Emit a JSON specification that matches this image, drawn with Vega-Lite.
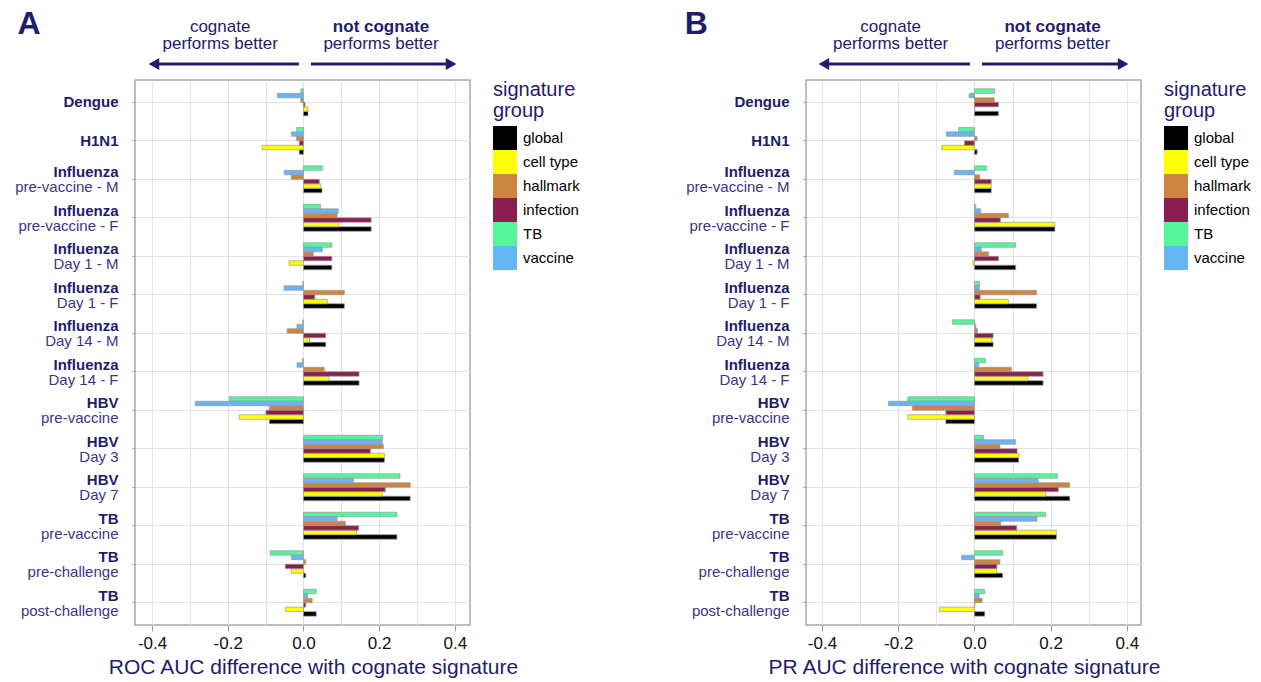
{
  "$schema": "https://vega.github.io/schema/vega-lite/v6.json",
  "padding": {"left": 13, "top": 8, "right": 4, "bottom": 2},
  "background": "white",
  "config": {
    "font": "Liberation Sans",
    "view": {"stroke": "#a8a8a8", "strokeWidth": 1.5},
    "legend": {"orient": "right", "offset": 23, "padding": 0, "titleFontSize": 20, "titleColor": "#221c6c", "titleFontWeight": "normal", "titleLineHeight": 21, "titlePadding": 5, "labelFontSize": 15, "labelColor": "#000000", "symbolType": "square", "symbolSize": 576, "symbolStrokeWidth": 0, "symbolOpacity": 1, "rowPadding": 0, "labelOffset": 6}
  },
  "datasets": {
    "roc": [
      {"c":"Dengue","g":"global","v":0.012},{"c":"Dengue","g":"cell type","v":0.012},{"c":"Dengue","g":"hallmark","v":-0.007},{"c":"Dengue","g":"infection","v":0.004},{"c":"Dengue","g":"TB","v":-0.007},{"c":"Dengue","g":"vaccine","v":-0.069},
      {"c":"H1N1","g":"global","v":-0.011},{"c":"H1N1","g":"cell type","v":-0.109},{"c":"H1N1","g":"hallmark","v":-0.018},{"c":"H1N1","g":"infection","v":-0.011},{"c":"H1N1","g":"TB","v":-0.018},{"c":"H1N1","g":"vaccine","v":-0.032},
      {"c":"Influenza|pre-vaccine - M","g":"global","v":0.049},{"c":"Influenza|pre-vaccine - M","g":"cell type","v":0.046},{"c":"Influenza|pre-vaccine - M","g":"hallmark","v":-0.032},{"c":"Influenza|pre-vaccine - M","g":"infection","v":0.042},{"c":"Influenza|pre-vaccine - M","g":"TB","v":0.05},{"c":"Influenza|pre-vaccine - M","g":"vaccine","v":-0.051},
      {"c":"Influenza|pre-vaccine - F","g":"global","v":0.179},{"c":"Influenza|pre-vaccine - F","g":"cell type","v":0.094},{"c":"Influenza|pre-vaccine - F","g":"hallmark","v":0.089},{"c":"Influenza|pre-vaccine - F","g":"infection","v":0.179},{"c":"Influenza|pre-vaccine - F","g":"TB","v":0.045},{"c":"Influenza|pre-vaccine - F","g":"vaccine","v":0.092},
      {"c":"Influenza|Day 1 - M","g":"global","v":0.075},{"c":"Influenza|Day 1 - M","g":"cell type","v":-0.038},{"c":"Influenza|Day 1 - M","g":"hallmark","v":0.026},{"c":"Influenza|Day 1 - M","g":"infection","v":0.075},{"c":"Influenza|Day 1 - M","g":"TB","v":0.075},{"c":"Influenza|Day 1 - M","g":"vaccine","v":0.05},
      {"c":"Influenza|Day 1 - F","g":"global","v":0.108},{"c":"Influenza|Day 1 - F","g":"cell type","v":0.063},{"c":"Influenza|Day 1 - F","g":"hallmark","v":0.108},{"c":"Influenza|Day 1 - F","g":"infection","v":0.03},{"c":"Influenza|Day 1 - F","g":"TB","v":-0.002},{"c":"Influenza|Day 1 - F","g":"vaccine","v":-0.051},
      {"c":"Influenza|Day 14 - M","g":"global","v":0.059},{"c":"Influenza|Day 14 - M","g":"cell type","v":0.016},{"c":"Influenza|Day 14 - M","g":"hallmark","v":-0.043},{"c":"Influenza|Day 14 - M","g":"infection","v":0.059},{"c":"Influenza|Day 14 - M","g":"TB","v":-0.002},{"c":"Influenza|Day 14 - M","g":"vaccine","v":-0.017},
      {"c":"Influenza|Day 14 - F","g":"global","v":0.147},{"c":"Influenza|Day 14 - F","g":"cell type","v":0.068},{"c":"Influenza|Day 14 - F","g":"hallmark","v":0.055},{"c":"Influenza|Day 14 - F","g":"infection","v":0.147},{"c":"Influenza|Day 14 - F","g":"TB","v":-0.003},{"c":"Influenza|Day 14 - F","g":"vaccine","v":-0.017},
      {"c":"HBV|pre-vaccine","g":"global","v":-0.09},{"c":"HBV|pre-vaccine","g":"cell type","v":-0.17},{"c":"HBV|pre-vaccine","g":"hallmark","v":-0.09},{"c":"HBV|pre-vaccine","g":"infection","v":-0.099},{"c":"HBV|pre-vaccine","g":"TB","v":-0.196},{"c":"HBV|pre-vaccine","g":"vaccine","v":-0.286},
      {"c":"HBV|Day 3","g":"global","v":0.214},{"c":"HBV|Day 3","g":"cell type","v":0.214},{"c":"HBV|Day 3","g":"hallmark","v":0.211},{"c":"HBV|Day 3","g":"infection","v":0.177},{"c":"HBV|Day 3","g":"TB","v":0.209},{"c":"HBV|Day 3","g":"vaccine","v":0.208},
      {"c":"HBV|Day 7","g":"global","v":0.282},{"c":"HBV|Day 7","g":"cell type","v":0.208},{"c":"HBV|Day 7","g":"hallmark","v":0.282},{"c":"HBV|Day 7","g":"infection","v":0.216},{"c":"HBV|Day 7","g":"TB","v":0.255},{"c":"HBV|Day 7","g":"vaccine","v":0.132},
      {"c":"TB|pre-vaccine","g":"global","v":0.247},{"c":"TB|pre-vaccine","g":"cell type","v":0.14},{"c":"TB|pre-vaccine","g":"hallmark","v":0.111},{"c":"TB|pre-vaccine","g":"infection","v":0.146},{"c":"TB|pre-vaccine","g":"TB","v":0.247},{"c":"TB|pre-vaccine","g":"vaccine","v":0.089},
      {"c":"TB|pre-challenge","g":"global","v":0.006},{"c":"TB|pre-challenge","g":"cell type","v":-0.032},{"c":"TB|pre-challenge","g":"hallmark","v":0.006},{"c":"TB|pre-challenge","g":"infection","v":-0.048},{"c":"TB|pre-challenge","g":"TB","v":-0.088},{"c":"TB|pre-challenge","g":"vaccine","v":-0.032},
      {"c":"TB|post-challenge","g":"global","v":0.034},{"c":"TB|post-challenge","g":"cell type","v":-0.048},{"c":"TB|post-challenge","g":"hallmark","v":0.023},{"c":"TB|post-challenge","g":"infection","v":0.006},{"c":"TB|post-challenge","g":"TB","v":0.034},{"c":"TB|post-challenge","g":"vaccine","v":0.011}
    ],
    "pr": [
      {"c":"Dengue","g":"global","v":0.063},{"c":"Dengue","g":"cell type","v":0.001},{"c":"Dengue","g":"hallmark","v":0.052},{"c":"Dengue","g":"infection","v":0.063},{"c":"Dengue","g":"TB","v":0.053},{"c":"Dengue","g":"vaccine","v":-0.014},
      {"c":"H1N1","g":"global","v":0.007},{"c":"H1N1","g":"cell type","v":-0.086},{"c":"H1N1","g":"hallmark","v":0.007},{"c":"H1N1","g":"infection","v":-0.026},{"c":"H1N1","g":"TB","v":-0.042},{"c":"H1N1","g":"vaccine","v":-0.074},
      {"c":"Influenza|pre-vaccine - M","g":"global","v":0.044},{"c":"Influenza|pre-vaccine - M","g":"cell type","v":0.044},{"c":"Influenza|pre-vaccine - M","g":"hallmark","v":0.014},{"c":"Influenza|pre-vaccine - M","g":"infection","v":0.044},{"c":"Influenza|pre-vaccine - M","g":"TB","v":0.032},{"c":"Influenza|pre-vaccine - M","g":"vaccine","v":-0.053},
      {"c":"Influenza|pre-vaccine - F","g":"global","v":0.211},{"c":"Influenza|pre-vaccine - F","g":"cell type","v":0.211},{"c":"Influenza|pre-vaccine - F","g":"hallmark","v":0.089},{"c":"Influenza|pre-vaccine - F","g":"infection","v":0.068},{"c":"Influenza|pre-vaccine - F","g":"TB","v":0.004},{"c":"Influenza|pre-vaccine - F","g":"vaccine","v":0.016},
      {"c":"Influenza|Day 1 - M","g":"global","v":0.108},{"c":"Influenza|Day 1 - M","g":"cell type","v":-0.004},{"c":"Influenza|Day 1 - M","g":"hallmark","v":0.037},{"c":"Influenza|Day 1 - M","g":"infection","v":0.063},{"c":"Influenza|Day 1 - M","g":"TB","v":0.108},{"c":"Influenza|Day 1 - M","g":"vaccine","v":0.018},
      {"c":"Influenza|Day 1 - F","g":"global","v":0.163},{"c":"Influenza|Day 1 - F","g":"cell type","v":0.089},{"c":"Influenza|Day 1 - F","g":"hallmark","v":0.163},{"c":"Influenza|Day 1 - F","g":"infection","v":0.015},{"c":"Influenza|Day 1 - F","g":"TB","v":0.013},{"c":"Influenza|Day 1 - F","g":"vaccine","v":0.013},
      {"c":"Influenza|Day 14 - M","g":"global","v":0.049},{"c":"Influenza|Day 14 - M","g":"cell type","v":0.046},{"c":"Influenza|Day 14 - M","g":"hallmark","v":0.008},{"c":"Influenza|Day 14 - M","g":"infection","v":0.049},{"c":"Influenza|Day 14 - M","g":"TB","v":-0.058},{"c":"Influenza|Day 14 - M","g":"vaccine","v":0.004},
      {"c":"Influenza|Day 14 - F","g":"global","v":0.18},{"c":"Influenza|Day 14 - F","g":"cell type","v":0.14},{"c":"Influenza|Day 14 - F","g":"hallmark","v":0.097},{"c":"Influenza|Day 14 - F","g":"infection","v":0.18},{"c":"Influenza|Day 14 - F","g":"TB","v":0.029},{"c":"Influenza|Day 14 - F","g":"vaccine","v":0.011},
      {"c":"HBV|pre-vaccine","g":"global","v":-0.075},{"c":"HBV|pre-vaccine","g":"cell type","v":-0.175},{"c":"HBV|pre-vaccine","g":"hallmark","v":-0.163},{"c":"HBV|pre-vaccine","g":"infection","v":-0.075},{"c":"HBV|pre-vaccine","g":"TB","v":-0.175},{"c":"HBV|pre-vaccine","g":"vaccine","v":-0.226},
      {"c":"HBV|Day 3","g":"global","v":0.116},{"c":"HBV|Day 3","g":"cell type","v":0.116},{"c":"HBV|Day 3","g":"hallmark","v":0.067},{"c":"HBV|Day 3","g":"infection","v":0.112},{"c":"HBV|Day 3","g":"TB","v":0.024},{"c":"HBV|Day 3","g":"vaccine","v":0.108},
      {"c":"HBV|Day 7","g":"global","v":0.25},{"c":"HBV|Day 7","g":"cell type","v":0.187},{"c":"HBV|Day 7","g":"hallmark","v":0.25},{"c":"HBV|Day 7","g":"infection","v":0.22},{"c":"HBV|Day 7","g":"TB","v":0.218},{"c":"HBV|Day 7","g":"vaccine","v":0.167},
      {"c":"TB|pre-vaccine","g":"global","v":0.215},{"c":"TB|pre-vaccine","g":"cell type","v":0.215},{"c":"TB|pre-vaccine","g":"hallmark","v":0.069},{"c":"TB|pre-vaccine","g":"infection","v":0.111},{"c":"TB|pre-vaccine","g":"TB","v":0.187},{"c":"TB|pre-vaccine","g":"vaccine","v":0.164},
      {"c":"TB|pre-challenge","g":"global","v":0.074},{"c":"TB|pre-challenge","g":"cell type","v":0.058},{"c":"TB|pre-challenge","g":"hallmark","v":0.067},{"c":"TB|pre-challenge","g":"infection","v":0.059},{"c":"TB|pre-challenge","g":"TB","v":0.074},{"c":"TB|pre-challenge","g":"vaccine","v":-0.034},
      {"c":"TB|post-challenge","g":"global","v":0.027},{"c":"TB|post-challenge","g":"cell type","v":-0.092},{"c":"TB|post-challenge","g":"hallmark","v":0.02},{"c":"TB|post-challenge","g":"infection","v":0.001},{"c":"TB|post-challenge","g":"TB","v":0.027},{"c":"TB|post-challenge","g":"vaccine","v":0.012}
    ],
    "annA": [
      {"k":"txt","x":-0.22,"y":11,"t":"cognate"},
      {"k":"txt","x":-0.22,"y":28,"t":"performs better"},
      {"k":"txt","x":0.205,"y":28,"t":"performs better"},
      {"k":"bold","x":0.205,"y":11,"t":"not cognate"},
      {"k":"letter","x":-0.725,"y":8,"t":"A"},
      {"k":"rule","x":-0.012,"x2":-0.385,"y":48},
      {"k":"rule","x":0.02,"x2":0.38,"y":48},
      {"k":"head","x":-0.395,"y":48,"s":"triangle-left"},
      {"k":"head","x":0.39,"y":48,"s":"triangle-right"}
    ],
    "annB": [
      {"k":"txt","x":-0.22,"y":11,"t":"cognate"},
      {"k":"txt","x":-0.22,"y":28,"t":"performs better"},
      {"k":"txt","x":0.205,"y":28,"t":"performs better"},
      {"k":"bold","x":0.205,"y":11,"t":"not cognate"},
      {"k":"letter","x":-0.73,"y":8,"t":"B"},
      {"k":"rule","x":-0.012,"x2":-0.385,"y":48},
      {"k":"rule","x":0.02,"x2":0.38,"y":48},
      {"k":"head","x":-0.395,"y":48,"s":"triangle-left"},
      {"k":"head","x":0.39,"y":48,"s":"triangle-right"}
    ]
  },
  "hconcat": [
    {
      "spacing": 8,
      "resolve": {"legend": {"color": "independent"}},
      "vconcat": [
        {
          "width": 335, "height": 55,
          "view": {"stroke": null},
          "data": {"name": "annA"},
          "encoding": {
            "x": {"field": "x", "type": "quantitative", "scale": {"domain": [-0.445, 0.44], "nice": false, "zero": false}, "axis": null},
            "y": {"field": "y", "type": "quantitative", "scale": {"domain": [0, 55], "nice": false, "zero": false, "reverse": true}, "axis": null}
          },
          "layer": [
            {"transform": [{"filter": "datum.k == 'txt'"}], "mark": {"type": "text", "fontSize": 17, "color": "#221c6c", "align": "center", "baseline": "middle"}, "encoding": {"text": {"field": "t"}}},
            {"transform": [{"filter": "datum.k == 'bold'"}], "mark": {"type": "text", "fontSize": 17, "fontWeight": "bold", "color": "#221c6c", "align": "center", "baseline": "middle"}, "encoding": {"text": {"field": "t"}}},
            {"transform": [{"filter": "datum.k == 'letter'"}], "mark": {"type": "text", "fontSize": 32, "fontWeight": "bold", "color": "#221c6c", "align": "center", "baseline": "middle"}, "encoding": {"text": {"field": "t"}}},
            {"transform": [{"filter": "datum.k == 'rule'"}], "mark": {"type": "rule", "strokeWidth": 3, "color": "#221c6c"}, "encoding": {"x2": {"field": "x2"}}},
            {"transform": [{"filter": "datum.k == 'head'"}], "mark": {"type": "point", "filled": true, "size": 150, "opacity": 1, "color": "#221c6c"}, "encoding": {"shape": {"field": "s", "type": "nominal", "scale": null, "legend": null}}}
          ]
        },
        {
          "width": 335, "height": 545,
          "data": {"name": "roc"},
          "resolve": {"axis": {"y": "independent"}},
          "layer": [
            {
              "mark": {"type": "bar", "stroke": "#9a9a9a", "strokeWidth": 0.7},
              "encoding": {
                "x": {"field": "v", "type": "quantitative", "scale": {"domain": [-0.445, 0.44], "nice": false, "zero": false},
                  "axis": {"values": [-0.4, -0.3, -0.2, -0.1, 0, 0.1, 0.2, 0.3, 0.4], "labelExpr": "abs(round(datum.value*10))%2==1 ? '' : replace(format(datum.value, '.1f'), '\u2212', '-')", "domain": false, "grid": true, "gridColor": "#e3e3e3", "tickSize": 6, "tickColor": {"condition": {"test": "abs(round(datum.value*10))%2==1", "value": "transparent"}, "value": "#999999"}, "labelFontSize": 17, "labelColor": "#111111", "labelPadding": 4, "title": "ROC AUC difference with cognate signature", "titleFontSize": 21, "titleFontWeight": "normal", "titleColor": "#221c6c", "titlePadding": 5, "titleX": 178}},
                "y": {"field": "c", "type": "nominal", "sort": null,
                  "scale": {"domain": ["Dengue","H1N1","Influenza|pre-vaccine - M","Influenza|pre-vaccine - F","Influenza|Day 1 - M","Influenza|Day 1 - F","Influenza|Day 14 - M","Influenza|Day 14 - F","HBV|pre-vaccine","HBV|Day 3","HBV|Day 7","TB|pre-vaccine","TB|pre-challenge","TB|post-challenge"], "paddingInner": 0.3, "paddingOuter": 0.23},
                  "axis": {"orient": "left", "title": null, "domain": false, "grid": true, "gridColor": "#e3e3e3", "ticks": true, "tickSize": 3, "tickColor": "#999999", "labelFontSize": 15, "labelFontWeight": "bold", "labelColor": "#221c6c", "labelPadding": 14, "labelLineHeight": 15, "labelOffset": {"condition": {"test": "indexof(datum.value, '|') >= 0", "value": -7}, "value": 0}, "labelExpr": "indexof(datum.value, '|') >= 0 ? [split(datum.value, '|')[0], ''] : datum.value"}},
                "yOffset": {"field": "g", "type": "nominal", "scale": {"domain": ["TB","vaccine","hallmark","infection","cell type","global"], "paddingInner": 0, "paddingOuter": 0}},
                "color": {"field": "g", "type": "nominal", "title": ["signature", "group"],
                  "scale": {"domain": ["global","cell type","hallmark","infection","TB","vaccine"], "range": ["#000000","#ffff00","#cd853f","#8b1e4e","#55f59c","#66b5f5"]}}
              }
            },
            {
              "mark": {"type": "point", "opacity": 0},
              "encoding": {
                "y": {"field": "c", "type": "nominal", "sort": null,
                  "axis": {"orient": "left", "title": null, "domain": false, "grid": false, "ticks": true, "tickSize": 3, "tickColor": "transparent", "labelFontSize": 15, "labelFontWeight": "normal", "labelColor": "#3b3589", "labelPadding": 14, "labelLineHeight": 15, "labelOffset": {"condition": {"test": "indexof(datum.value, '|') >= 0", "value": -7}, "value": 0}, "labelExpr": "indexof(datum.value, '|') >= 0 ? ['', split(datum.value, '|')[1]] : ''"}}
              }
            }
          ]
        }
      ]
    },
    {
      "spacing": 8,
      "resolve": {"legend": {"color": "independent"}},
      "vconcat": [
        {
          "width": 335, "height": 55,
          "view": {"stroke": null},
          "data": {"name": "annB"},
          "encoding": {
            "x": {"field": "x", "type": "quantitative", "scale": {"domain": [-0.442, 0.437], "nice": false, "zero": false}, "axis": null},
            "y": {"field": "y", "type": "quantitative", "scale": {"domain": [0, 55], "nice": false, "zero": false, "reverse": true}, "axis": null}
          },
          "layer": [
            {"transform": [{"filter": "datum.k == 'txt'"}], "mark": {"type": "text", "fontSize": 17, "color": "#221c6c", "align": "center", "baseline": "middle"}, "encoding": {"text": {"field": "t"}}},
            {"transform": [{"filter": "datum.k == 'bold'"}], "mark": {"type": "text", "fontSize": 17, "fontWeight": "bold", "color": "#221c6c", "align": "center", "baseline": "middle"}, "encoding": {"text": {"field": "t"}}},
            {"transform": [{"filter": "datum.k == 'letter'"}], "mark": {"type": "text", "fontSize": 32, "fontWeight": "bold", "color": "#221c6c", "align": "center", "baseline": "middle"}, "encoding": {"text": {"field": "t"}}},
            {"transform": [{"filter": "datum.k == 'rule'"}], "mark": {"type": "rule", "strokeWidth": 3, "color": "#221c6c"}, "encoding": {"x2": {"field": "x2"}}},
            {"transform": [{"filter": "datum.k == 'head'"}], "mark": {"type": "point", "filled": true, "size": 150, "opacity": 1, "color": "#221c6c"}, "encoding": {"shape": {"field": "s", "type": "nominal", "scale": null, "legend": null}}}
          ]
        },
        {
          "width": 335, "height": 545,
          "data": {"name": "pr"},
          "resolve": {"axis": {"y": "independent"}},
          "layer": [
            {
              "mark": {"type": "bar", "stroke": "#9a9a9a", "strokeWidth": 0.7},
              "encoding": {
                "x": {"field": "v", "type": "quantitative", "scale": {"domain": [-0.442, 0.437], "nice": false, "zero": false},
                  "axis": {"values": [-0.4, -0.3, -0.2, -0.1, 0, 0.1, 0.2, 0.3, 0.4], "labelExpr": "abs(round(datum.value*10))%2==1 ? '' : replace(format(datum.value, '.1f'), '\u2212', '-')", "domain": false, "grid": true, "gridColor": "#e3e3e3", "tickSize": 6, "tickColor": {"condition": {"test": "abs(round(datum.value*10))%2==1", "value": "transparent"}, "value": "#999999"}, "labelFontSize": 17, "labelColor": "#111111", "labelPadding": 4, "title": "PR AUC difference with cognate signature", "titleFontSize": 21, "titleFontWeight": "normal", "titleColor": "#221c6c", "titlePadding": 5, "titleX": 158}},
                "y": {"field": "c", "type": "nominal", "sort": null,
                  "scale": {"domain": ["Dengue","H1N1","Influenza|pre-vaccine - M","Influenza|pre-vaccine - F","Influenza|Day 1 - M","Influenza|Day 1 - F","Influenza|Day 14 - M","Influenza|Day 14 - F","HBV|pre-vaccine","HBV|Day 3","HBV|Day 7","TB|pre-vaccine","TB|pre-challenge","TB|post-challenge"], "paddingInner": 0.3, "paddingOuter": 0.23},
                  "axis": {"orient": "left", "title": null, "domain": false, "grid": true, "gridColor": "#e3e3e3", "ticks": true, "tickSize": 3, "tickColor": "#999999", "labelFontSize": 15, "labelFontWeight": "bold", "labelColor": "#221c6c", "labelPadding": 14, "labelLineHeight": 15, "labelOffset": {"condition": {"test": "indexof(datum.value, '|') >= 0", "value": -7}, "value": 0}, "labelExpr": "indexof(datum.value, '|') >= 0 ? [split(datum.value, '|')[0], ''] : datum.value"}},
                "yOffset": {"field": "g", "type": "nominal", "scale": {"domain": ["TB","vaccine","hallmark","infection","cell type","global"], "paddingInner": 0, "paddingOuter": 0}},
                "color": {"field": "g", "type": "nominal", "title": ["signature", "group"],
                  "scale": {"domain": ["global","cell type","hallmark","infection","TB","vaccine"], "range": ["#000000","#ffff00","#cd853f","#8b1e4e","#55f59c","#66b5f5"]}}
              }
            },
            {
              "mark": {"type": "point", "opacity": 0},
              "encoding": {
                "y": {"field": "c", "type": "nominal", "sort": null,
                  "axis": {"orient": "left", "title": null, "domain": false, "grid": false, "ticks": true, "tickSize": 3, "tickColor": "transparent", "labelFontSize": 15, "labelFontWeight": "normal", "labelColor": "#3b3589", "labelPadding": 14, "labelLineHeight": 15, "labelOffset": {"condition": {"test": "indexof(datum.value, '|') >= 0", "value": -7}, "value": 0}, "labelExpr": "indexof(datum.value, '|') >= 0 ? ['', split(datum.value, '|')[1]] : ''"}}
              }
            }
          ]
        }
      ]
    }
  ],
  "spacing": 103
}
